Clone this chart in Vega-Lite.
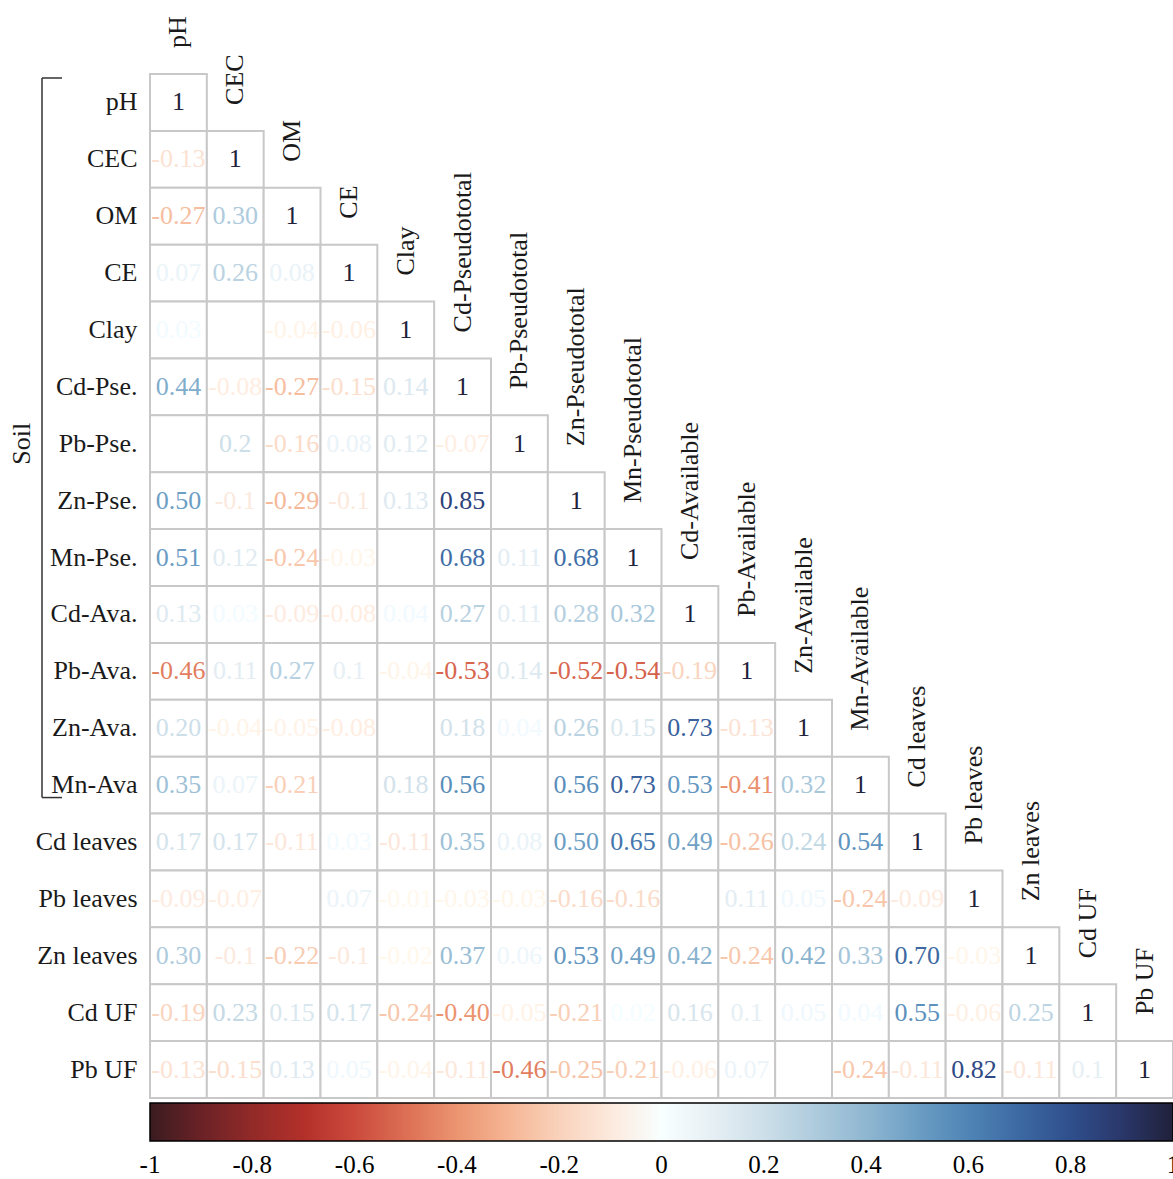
{
  "$schema": "https://vega.github.io/schema/vega-lite/v6.json",
  "width": 1023,
  "height": 1024,
  "autosize": {"type": "none"},
  "padding": {"left": 150, "top": 74, "right": 0, "bottom": 81},
  "background": "white",
  "config": {"view": {"stroke": null}, "font": "Liberation Serif"},
  "datasets": {
    "cells": [
      {"r":"pH","c":"pH","v":1,"t":"1"},
      {"r":"CEC","c":"pH","v":-0.13,"t":"-0.13"},{"r":"CEC","c":"CEC","v":1,"t":"1"},
      {"r":"OM","c":"pH","v":-0.27,"t":"-0.27"},{"r":"OM","c":"CEC","v":0.30,"t":"0.30"},{"r":"OM","c":"OM","v":1,"t":"1"},
      {"r":"CE","c":"pH","v":0.07,"t":"0.07"},{"r":"CE","c":"CEC","v":0.26,"t":"0.26"},{"r":"CE","c":"OM","v":0.08,"t":"0.08"},{"r":"CE","c":"CE","v":1,"t":"1"},
      {"r":"Clay","c":"pH","v":0.03,"t":"0.03"},{"r":"Clay","c":"CEC","v":null,"t":""},{"r":"Clay","c":"OM","v":-0.04,"t":"-0.04"},{"r":"Clay","c":"CE","v":-0.06,"t":"-0.06"},{"r":"Clay","c":"Clay","v":1,"t":"1"},
      {"r":"Cd-Pse.","c":"pH","v":0.44,"t":"0.44"},{"r":"Cd-Pse.","c":"CEC","v":-0.08,"t":"-0.08"},{"r":"Cd-Pse.","c":"OM","v":-0.27,"t":"-0.27"},{"r":"Cd-Pse.","c":"CE","v":-0.15,"t":"-0.15"},{"r":"Cd-Pse.","c":"Clay","v":0.14,"t":"0.14"},{"r":"Cd-Pse.","c":"Cd-Pseudototal","v":1,"t":"1"},
      {"r":"Pb-Pse.","c":"pH","v":null,"t":""},{"r":"Pb-Pse.","c":"CEC","v":0.2,"t":"0.2"},{"r":"Pb-Pse.","c":"OM","v":-0.16,"t":"-0.16"},{"r":"Pb-Pse.","c":"CE","v":0.08,"t":"0.08"},{"r":"Pb-Pse.","c":"Clay","v":0.12,"t":"0.12"},{"r":"Pb-Pse.","c":"Cd-Pseudototal","v":-0.07,"t":"-0.07"},{"r":"Pb-Pse.","c":"Pb-Pseudototal","v":1,"t":"1"},
      {"r":"Zn-Pse.","c":"pH","v":0.50,"t":"0.50"},{"r":"Zn-Pse.","c":"CEC","v":-0.1,"t":"-0.1"},{"r":"Zn-Pse.","c":"OM","v":-0.29,"t":"-0.29"},{"r":"Zn-Pse.","c":"CE","v":-0.1,"t":"-0.1"},{"r":"Zn-Pse.","c":"Clay","v":0.13,"t":"0.13"},{"r":"Zn-Pse.","c":"Cd-Pseudototal","v":0.85,"t":"0.85"},{"r":"Zn-Pse.","c":"Pb-Pseudototal","v":null,"t":""},{"r":"Zn-Pse.","c":"Zn-Pseudototal","v":1,"t":"1"},
      {"r":"Mn-Pse.","c":"pH","v":0.51,"t":"0.51"},{"r":"Mn-Pse.","c":"CEC","v":0.12,"t":"0.12"},{"r":"Mn-Pse.","c":"OM","v":-0.24,"t":"-0.24"},{"r":"Mn-Pse.","c":"CE","v":-0.03,"t":"-0.03"},{"r":"Mn-Pse.","c":"Clay","v":null,"t":""},{"r":"Mn-Pse.","c":"Cd-Pseudototal","v":0.68,"t":"0.68"},{"r":"Mn-Pse.","c":"Pb-Pseudototal","v":0.11,"t":"0.11"},{"r":"Mn-Pse.","c":"Zn-Pseudototal","v":0.68,"t":"0.68"},{"r":"Mn-Pse.","c":"Mn-Pseudototal","v":1,"t":"1"},
      {"r":"Cd-Ava.","c":"pH","v":0.13,"t":"0.13"},{"r":"Cd-Ava.","c":"CEC","v":0.03,"t":"0.03"},{"r":"Cd-Ava.","c":"OM","v":-0.09,"t":"-0.09"},{"r":"Cd-Ava.","c":"CE","v":-0.08,"t":"-0.08"},{"r":"Cd-Ava.","c":"Clay","v":0.04,"t":"0.04"},{"r":"Cd-Ava.","c":"Cd-Pseudototal","v":0.27,"t":"0.27"},{"r":"Cd-Ava.","c":"Pb-Pseudototal","v":0.11,"t":"0.11"},{"r":"Cd-Ava.","c":"Zn-Pseudototal","v":0.28,"t":"0.28"},{"r":"Cd-Ava.","c":"Mn-Pseudototal","v":0.32,"t":"0.32"},{"r":"Cd-Ava.","c":"Cd-Available","v":1,"t":"1"},
      {"r":"Pb-Ava.","c":"pH","v":-0.46,"t":"-0.46"},{"r":"Pb-Ava.","c":"CEC","v":0.11,"t":"0.11"},{"r":"Pb-Ava.","c":"OM","v":0.27,"t":"0.27"},{"r":"Pb-Ava.","c":"CE","v":0.1,"t":"0.1"},{"r":"Pb-Ava.","c":"Clay","v":-0.04,"t":"-0.04"},{"r":"Pb-Ava.","c":"Cd-Pseudototal","v":-0.53,"t":"-0.53"},{"r":"Pb-Ava.","c":"Pb-Pseudototal","v":0.14,"t":"0.14"},{"r":"Pb-Ava.","c":"Zn-Pseudototal","v":-0.52,"t":"-0.52"},{"r":"Pb-Ava.","c":"Mn-Pseudototal","v":-0.54,"t":"-0.54"},{"r":"Pb-Ava.","c":"Cd-Available","v":-0.19,"t":"-0.19"},{"r":"Pb-Ava.","c":"Pb-Available","v":1,"t":"1"},
      {"r":"Zn-Ava.","c":"pH","v":0.20,"t":"0.20"},{"r":"Zn-Ava.","c":"CEC","v":-0.04,"t":"-0.04"},{"r":"Zn-Ava.","c":"OM","v":-0.05,"t":"-0.05"},{"r":"Zn-Ava.","c":"CE","v":-0.08,"t":"-0.08"},{"r":"Zn-Ava.","c":"Clay","v":null,"t":""},{"r":"Zn-Ava.","c":"Cd-Pseudototal","v":0.18,"t":"0.18"},{"r":"Zn-Ava.","c":"Pb-Pseudototal","v":0.04,"t":"0.04"},{"r":"Zn-Ava.","c":"Zn-Pseudototal","v":0.26,"t":"0.26"},{"r":"Zn-Ava.","c":"Mn-Pseudototal","v":0.15,"t":"0.15"},{"r":"Zn-Ava.","c":"Cd-Available","v":0.73,"t":"0.73"},{"r":"Zn-Ava.","c":"Pb-Available","v":-0.13,"t":"-0.13"},{"r":"Zn-Ava.","c":"Zn-Available","v":1,"t":"1"},
      {"r":"Mn-Ava","c":"pH","v":0.35,"t":"0.35"},{"r":"Mn-Ava","c":"CEC","v":0.07,"t":"0.07"},{"r":"Mn-Ava","c":"OM","v":-0.21,"t":"-0.21"},{"r":"Mn-Ava","c":"CE","v":null,"t":""},{"r":"Mn-Ava","c":"Clay","v":0.18,"t":"0.18"},{"r":"Mn-Ava","c":"Cd-Pseudototal","v":0.56,"t":"0.56"},{"r":"Mn-Ava","c":"Pb-Pseudototal","v":null,"t":""},{"r":"Mn-Ava","c":"Zn-Pseudototal","v":0.56,"t":"0.56"},{"r":"Mn-Ava","c":"Mn-Pseudototal","v":0.73,"t":"0.73"},{"r":"Mn-Ava","c":"Cd-Available","v":0.53,"t":"0.53"},{"r":"Mn-Ava","c":"Pb-Available","v":-0.41,"t":"-0.41"},{"r":"Mn-Ava","c":"Zn-Available","v":0.32,"t":"0.32"},{"r":"Mn-Ava","c":"Mn-Available","v":1,"t":"1"},
      {"r":"Cd leaves","c":"pH","v":0.17,"t":"0.17"},{"r":"Cd leaves","c":"CEC","v":0.17,"t":"0.17"},{"r":"Cd leaves","c":"OM","v":-0.11,"t":"-0.11"},{"r":"Cd leaves","c":"CE","v":0.03,"t":"0.03"},{"r":"Cd leaves","c":"Clay","v":-0.11,"t":"-0.11"},{"r":"Cd leaves","c":"Cd-Pseudototal","v":0.35,"t":"0.35"},{"r":"Cd leaves","c":"Pb-Pseudototal","v":0.08,"t":"0.08"},{"r":"Cd leaves","c":"Zn-Pseudototal","v":0.50,"t":"0.50"},{"r":"Cd leaves","c":"Mn-Pseudototal","v":0.65,"t":"0.65"},{"r":"Cd leaves","c":"Cd-Available","v":0.49,"t":"0.49"},{"r":"Cd leaves","c":"Pb-Available","v":-0.26,"t":"-0.26"},{"r":"Cd leaves","c":"Zn-Available","v":0.24,"t":"0.24"},{"r":"Cd leaves","c":"Mn-Available","v":0.54,"t":"0.54"},{"r":"Cd leaves","c":"Cd leaves","v":1,"t":"1"},
      {"r":"Pb leaves","c":"pH","v":-0.09,"t":"-0.09"},{"r":"Pb leaves","c":"CEC","v":-0.07,"t":"-0.07"},{"r":"Pb leaves","c":"OM","v":null,"t":""},{"r":"Pb leaves","c":"CE","v":0.07,"t":"0.07"},{"r":"Pb leaves","c":"Clay","v":-0.01,"t":"-0.01"},{"r":"Pb leaves","c":"Cd-Pseudototal","v":-0.03,"t":"-0.03"},{"r":"Pb leaves","c":"Pb-Pseudototal","v":-0.03,"t":"-0.03"},{"r":"Pb leaves","c":"Zn-Pseudototal","v":-0.16,"t":"-0.16"},{"r":"Pb leaves","c":"Mn-Pseudototal","v":-0.16,"t":"-0.16"},{"r":"Pb leaves","c":"Cd-Available","v":null,"t":""},{"r":"Pb leaves","c":"Pb-Available","v":0.11,"t":"0.11"},{"r":"Pb leaves","c":"Zn-Available","v":0.05,"t":"0.05"},{"r":"Pb leaves","c":"Mn-Available","v":-0.24,"t":"-0.24"},{"r":"Pb leaves","c":"Cd leaves","v":-0.09,"t":"-0.09"},{"r":"Pb leaves","c":"Pb leaves","v":1,"t":"1"},
      {"r":"Zn leaves","c":"pH","v":0.30,"t":"0.30"},{"r":"Zn leaves","c":"CEC","v":-0.1,"t":"-0.1"},{"r":"Zn leaves","c":"OM","v":-0.22,"t":"-0.22"},{"r":"Zn leaves","c":"CE","v":-0.1,"t":"-0.1"},{"r":"Zn leaves","c":"Clay","v":-0.02,"t":"-0.02"},{"r":"Zn leaves","c":"Cd-Pseudototal","v":0.37,"t":"0.37"},{"r":"Zn leaves","c":"Pb-Pseudototal","v":0.06,"t":"0.06"},{"r":"Zn leaves","c":"Zn-Pseudototal","v":0.53,"t":"0.53"},{"r":"Zn leaves","c":"Mn-Pseudototal","v":0.49,"t":"0.49"},{"r":"Zn leaves","c":"Cd-Available","v":0.42,"t":"0.42"},{"r":"Zn leaves","c":"Pb-Available","v":-0.24,"t":"-0.24"},{"r":"Zn leaves","c":"Zn-Available","v":0.42,"t":"0.42"},{"r":"Zn leaves","c":"Mn-Available","v":0.33,"t":"0.33"},{"r":"Zn leaves","c":"Cd leaves","v":0.70,"t":"0.70"},{"r":"Zn leaves","c":"Pb leaves","v":-0.03,"t":"-0.03"},{"r":"Zn leaves","c":"Zn leaves","v":1,"t":"1"},
      {"r":"Cd UF","c":"pH","v":-0.19,"t":"-0.19"},{"r":"Cd UF","c":"CEC","v":0.23,"t":"0.23"},{"r":"Cd UF","c":"OM","v":0.15,"t":"0.15"},{"r":"Cd UF","c":"CE","v":0.17,"t":"0.17"},{"r":"Cd UF","c":"Clay","v":-0.24,"t":"-0.24"},{"r":"Cd UF","c":"Cd-Pseudototal","v":-0.40,"t":"-0.40"},{"r":"Cd UF","c":"Pb-Pseudototal","v":-0.05,"t":"-0.05"},{"r":"Cd UF","c":"Zn-Pseudototal","v":-0.21,"t":"-0.21"},{"r":"Cd UF","c":"Mn-Pseudototal","v":0.02,"t":"0.02"},{"r":"Cd UF","c":"Cd-Available","v":0.16,"t":"0.16"},{"r":"Cd UF","c":"Pb-Available","v":0.1,"t":"0.1"},{"r":"Cd UF","c":"Zn-Available","v":0.05,"t":"0.05"},{"r":"Cd UF","c":"Mn-Available","v":0.04,"t":"0.04"},{"r":"Cd UF","c":"Cd leaves","v":0.55,"t":"0.55"},{"r":"Cd UF","c":"Pb leaves","v":-0.06,"t":"-0.06"},{"r":"Cd UF","c":"Zn leaves","v":0.25,"t":"0.25"},{"r":"Cd UF","c":"Cd UF","v":1,"t":"1"},
      {"r":"Pb UF","c":"pH","v":-0.13,"t":"-0.13"},{"r":"Pb UF","c":"CEC","v":-0.15,"t":"-0.15"},{"r":"Pb UF","c":"OM","v":0.13,"t":"0.13"},{"r":"Pb UF","c":"CE","v":0.05,"t":"0.05"},{"r":"Pb UF","c":"Clay","v":-0.04,"t":"-0.04"},{"r":"Pb UF","c":"Cd-Pseudototal","v":-0.11,"t":"-0.11"},{"r":"Pb UF","c":"Pb-Pseudototal","v":-0.46,"t":"-0.46"},{"r":"Pb UF","c":"Zn-Pseudototal","v":-0.25,"t":"-0.25"},{"r":"Pb UF","c":"Mn-Pseudototal","v":-0.21,"t":"-0.21"},{"r":"Pb UF","c":"Cd-Available","v":-0.06,"t":"-0.06"},{"r":"Pb UF","c":"Pb-Available","v":0.07,"t":"0.07"},{"r":"Pb UF","c":"Zn-Available","v":null,"t":""},{"r":"Pb UF","c":"Mn-Available","v":-0.24,"t":"-0.24"},{"r":"Pb UF","c":"Cd leaves","v":-0.11,"t":"-0.11"},{"r":"Pb UF","c":"Pb leaves","v":0.82,"t":"0.82"},{"r":"Pb UF","c":"Zn leaves","v":-0.11,"t":"-0.11"},{"r":"Pb UF","c":"Cd UF","v":0.1,"t":"0.1"},{"r":"Pb UF","c":"Pb UF","v":1,"t":"1"}
    ],
    "groups": [
      {"name": "Soil", "first": "pH", "last": "Mn-Ava", "mid": "Pb-Pse.", "col": "pH"}
    ]
  },
  "layer": [
    {
      "data": {"name": "cells"},
      "mark": {"type": "rect", "fill": "white", "stroke": "#c8c8c8", "strokeWidth": 2},
      "encoding": {
        "x": {"field": "c", "type": "nominal", "axis": null,
              "scale": {"domain": ["pH","CEC","OM","CE","Clay","Cd-Pseudototal","Pb-Pseudototal","Zn-Pseudototal","Mn-Pseudototal","Cd-Available","Pb-Available","Zn-Available","Mn-Available","Cd leaves","Pb leaves","Zn leaves","Cd UF","Pb UF"], "paddingInner": 0, "paddingOuter": 0}},
        "y": {"field": "r", "type": "nominal",
              "scale": {"domain": ["pH","CEC","OM","CE","Clay","Cd-Pse.","Pb-Pse.","Zn-Pse.","Mn-Pse.","Cd-Ava.","Pb-Ava.","Zn-Ava.","Mn-Ava","Cd leaves","Pb leaves","Zn leaves","Cd UF","Pb UF"], "paddingInner": 0, "paddingOuter": 0},
              "axis": {"title": null, "domain": false, "ticks": false, "grid": false, "labelPadding": 13, "labelFontSize": 26, "labelFont": "Liberation Serif", "labelColor": "#1a1a1a"}}
      }
    },
    {
      "data": {"name": "cells"},
      "transform": [{"filter": "datum.t !== ''"}],
      "mark": {"type": "text", "fontSize": 26, "font": "Liberation Serif", "baseline": "middle", "align": "center"},
      "encoding": {
        "x": {"field": "c", "type": "nominal"},
        "y": {"field": "r", "type": "nominal"},
        "text": {"field": "t"},
        "color": {
          "field": "v", "type": "quantitative",
          "scale": {
            "domain": [-1,-0.9,-0.8,-0.7,-0.6,-0.5,-0.4,-0.3,-0.2,-0.1,0,0.1,0.2,0.3,0.4,0.5,0.6,0.7,0.8,0.9,1],
            "range": ["#3a1c20","#6a2226","#922a28","#b3302a","#cb4a3c","#dc6f55","#eb9470","#f5b594","#f9d2bb","#fce9dd","#ffffff","#e6eff4","#cddfe9","#aecbdd","#8fb7d1","#6c9ec4","#4f84b5","#3d69a3","#2f4f8c","#2a376a","#20213a"]
          },
          "legend": {
            "orient": "none", "direction": "horizontal", "legendX": 0, "legendY": 1029,
            "gradientLength": 1023, "gradientThickness": 38,
            "gradientStrokeColor": "#000", "gradientStrokeWidth": 1.5,
            "title": null, "padding": 0,
            "values": [-1,-0.8,-0.6,-0.4,-0.2,0,0.2,0.4,0.6,0.8,1],
            "labelExpr": "'' + datum.value",
            "labelFontSize": 25, "labelFont": "Liberation Serif", "labelColor": "#000",
            "labelOffset": 12, "labelOverlap": false, "labelAlign": "center",
            "encode": {"labels": {"update": {"align": {"value": "center"}}}}
          }
        }
      }
    },
    {
      "data": {"name": "cells"},
      "transform": [{"filter": "datum.t === '1'"}],
      "mark": {"type": "text", "angle": 270, "align": "left", "baseline": "middle", "dx": 26, "fontSize": 26, "font": "Liberation Serif", "color": "#1a1a1a"},
      "encoding": {
        "x": {"field": "c", "type": "nominal"},
        "y": {"field": "r", "type": "nominal", "bandPosition": 0},
        "text": {"field": "c"}
      }
    },
    {
      "data": {"name": "groups"},
      "mark": {"type": "rule", "color": "#333", "strokeWidth": 1.5, "xOffset": -108, "yOffset": 4, "y2Offset": -16},
      "encoding": {
        "x": {"field": "col", "type": "nominal", "bandPosition": 0},
        "y": {"field": "first", "type": "nominal", "bandPosition": 0},
        "y2": {"field": "last", "bandPosition": 1}
      }
    },
    {
      "data": {"name": "groups"},
      "mark": {"type": "rule", "color": "#333", "strokeWidth": 1.5, "xOffset": -108, "x2Offset": -88, "yOffset": 4},
      "encoding": {
        "x": {"field": "col", "type": "nominal", "bandPosition": 0},
        "x2": {"field": "col", "bandPosition": 0},
        "y": {"field": "first", "type": "nominal", "bandPosition": 0}
      }
    },
    {
      "data": {"name": "groups"},
      "mark": {"type": "rule", "color": "#333", "strokeWidth": 1.5, "xOffset": -108, "x2Offset": -88, "yOffset": -16},
      "encoding": {
        "x": {"field": "col", "type": "nominal", "bandPosition": 0},
        "x2": {"field": "col", "bandPosition": 0},
        "y": {"field": "last", "type": "nominal", "bandPosition": 1}
      }
    },
    {
      "data": {"name": "groups"},
      "mark": {"type": "text", "angle": 270, "align": "center", "baseline": "middle", "xOffset": -128, "fontSize": 26, "font": "Liberation Serif", "color": "#1a1a1a"},
      "encoding": {
        "x": {"field": "col", "type": "nominal", "bandPosition": 0},
        "y": {"field": "mid", "type": "nominal"},
        "text": {"field": "name"}
      }
    }
  ]
}
